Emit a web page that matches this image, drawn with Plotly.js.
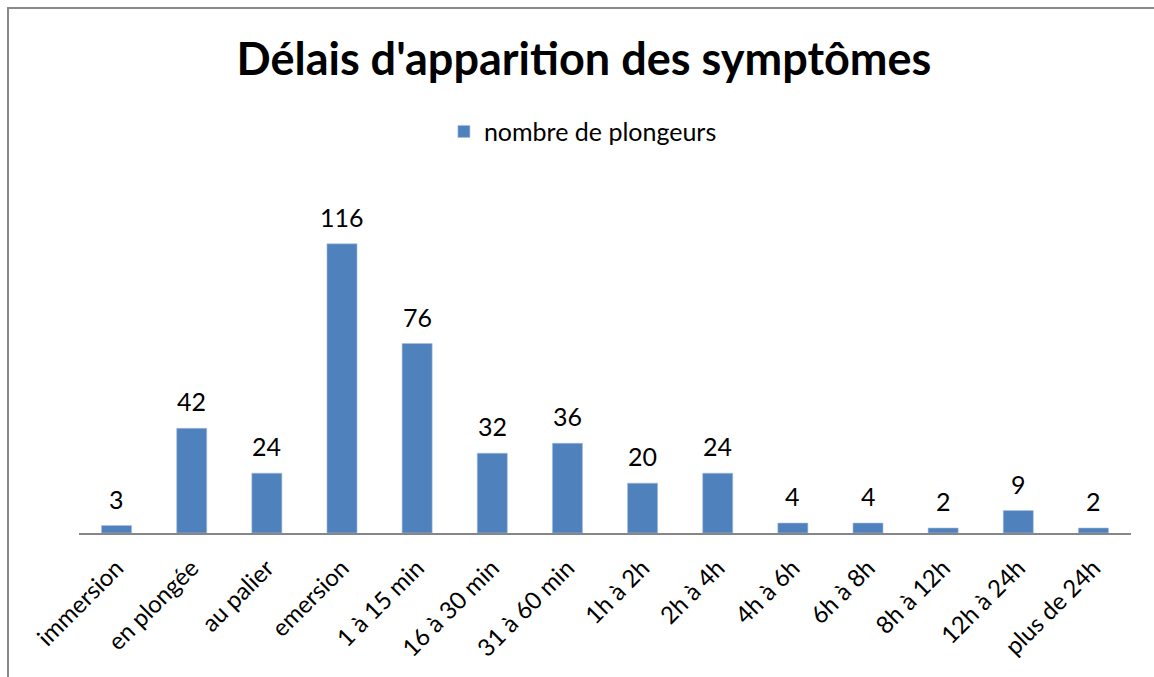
<!DOCTYPE html>
<html>
<head>
<meta charset="utf-8">
<script src="https://cdn.plot.ly/plotly-3.0.1.min.js"></script>
<style>
html,body{margin:0;padding:0;overflow:hidden;background:#fff;}
#chart{width:1154px;height:677px;}
#frame{position:absolute;left:7px;top:7px;width:3000px;height:3000px;border:2px solid #8a8a8a;pointer-events:none;box-sizing:border-box;}
</style>
</head>
<body>
<div id="chart"></div>
<div id="frame"></div>
<script>
const categories = ["immersion","en plongée","au palier","emersion","1 à 15 min","16 à 30 min","31 à 60 min","1h à 2h","2h à 4h","4h à 6h","6h à 8h","8h à 12h","12h à 24h","plus de 24h"];
const values = [3,42,24,116,76,32,36,20,24,4,4,2,9,2];
const seriesName = "nombre de plongeurs";
const chartTitle = "Délais d'apparition des symptômes";

const FONT = "Lato, 'Open Sans', sans-serif";

const trace = {
  type: 'bar',
  x: categories,
  y: values,
  name: seriesName,
  marker: {color: '#4F81BD', line: {color: '#a7bfde', width: 0.6}},
  width: 0.4,
  hoverinfo: 'x+y'
};

const annotations = categories.map((c, i) => ({
  x: c, y: values[i], xref: 'x', yref: 'y',
  text: String(values[i]), showarrow: false,
  yanchor: 'bottom', yshift: 10,
  font: {family: FONT, size: 25, color: '#000'}
}));

const layout = {
  width: 1154, height: 677,
  margin: {l: 79, r: 23, t: 184, b: 144},
  paper_bgcolor: '#fff', plot_bgcolor: '#fff',
  title: {text: '<b>' + chartTitle + '</b>', x: 0.506, xanchor: 'center', y: 0.913, yanchor: 'middle', yref: 'container',
          font: {family: FONT, size: 45, color: '#000'}},
  showlegend: true,
  legend: {orientation: 'h', x: 0.479, xanchor: 'center', y: 1.15, yanchor: 'middle',
           font: {family: FONT, size: 25, color: '#000'}},
  xaxis: {type: 'category', tickangle: -45, showline: true, linecolor: '#868686', linewidth: 1.5,
          ticks: 'outside', ticklen: 10, tickcolor: 'rgba(0,0,0,0)', showgrid: false,
          tickfont: {family: FONT, size: 24, color: '#000'}},
  yaxis: {range: [0, 140], visible: false, showgrid: false, zeroline: false},
  annotations: annotations,
  bargap: 0.6
};

Plotly.newPlot('chart', [trace], layout, {displayModeBar: false, staticPlot: true});
</script>
</body>
</html>
